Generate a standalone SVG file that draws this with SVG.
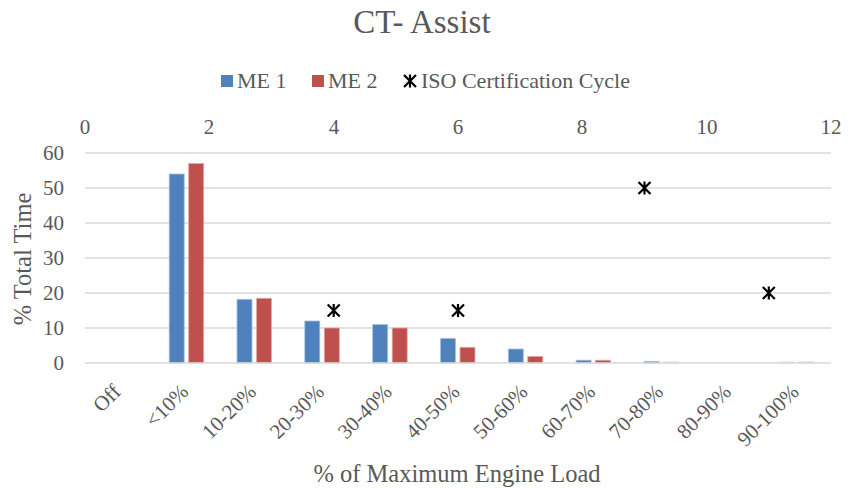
<svg xmlns="http://www.w3.org/2000/svg" width="856" height="488" viewBox="0 0 856 488">
<style>
text{font-family:'Liberation Serif','Times New Roman',serif;fill:#595959}
.title{font-size:33px}
.tick{font-size:21px}
.leg{font-size:22px}
.axt{font-size:24.5px}
.grid{stroke:#D9D9D9;stroke-width:1.5;fill:none}
.b1{fill:#4F81BD;stroke:#A7C0DE;stroke-width:0.8}
.b2{fill:#C0504D;stroke:#E0A8A6;stroke-width:0.8}
.mk{stroke:#000;stroke-width:2.2;fill:none}
</style>
<defs>
<path id="star" d="M-6,-6 L6,6 M-6,6 L6,-6 M0,-6.5 L0,6.5"/>
</defs>
<rect width="856" height="488" fill="#fff"/>
<text class="title" x="422" y="33" text-anchor="middle">CT- Assist</text>
<g id="legend">
<rect x="221" y="75" width="12" height="12" fill="#4F81BD"/>
<text class="leg" x="237" y="87.5">ME 1</text>
<rect x="312" y="75" width="12" height="12" fill="#C0504D"/>
<text class="leg" x="328" y="87.5">ME 2</text>
<use href="#star" class="mk" transform="translate(410,81)"/>
<text class="leg" x="421" y="87.5">ISO Certification Cycle</text>
</g>
<g id="gridlines">
<line class="grid" x1="85" y1="153" x2="831" y2="153"/>
<line class="grid" x1="85" y1="188" x2="831" y2="188"/>
<line class="grid" x1="85" y1="223" x2="831" y2="223"/>
<line class="grid" x1="85" y1="258" x2="831" y2="258"/>
<line class="grid" x1="85" y1="293" x2="831" y2="293"/>
<line class="grid" x1="85" y1="328" x2="831" y2="328"/>
</g>
<g id="y-axis" text-anchor="end">
<text class="tick" x="64" y="160">60</text>
<text class="tick" x="64" y="195">50</text>
<text class="tick" x="64" y="230">40</text>
<text class="tick" x="64" y="265">30</text>
<text class="tick" x="64" y="300">20</text>
<text class="tick" x="64" y="335">10</text>
<text class="tick" x="64" y="370">0</text>
</g>
<g id="top-axis" text-anchor="middle">
<text class="tick" x="85" y="134">0</text>
<text class="tick" x="209" y="134">2</text>
<text class="tick" x="334" y="134">4</text>
<text class="tick" x="458" y="134">6</text>
<text class="tick" x="582" y="134">8</text>
<text class="tick" x="707" y="134">10</text>
<text class="tick" x="831" y="134">12</text>
</g>
<g id="series-me1">
<rect class="b1" x="169.2" y="174" width="15" height="189"/>
<rect class="b1" x="237" y="299.3" width="15" height="63.7"/>
<rect class="b1" x="304.8" y="321" width="15" height="42"/>
<rect class="b1" x="372.7" y="324.5" width="15" height="38.5"/>
<rect class="b1" x="440.5" y="338.5" width="15" height="24.5"/>
<rect class="b1" x="508.3" y="349" width="15" height="14"/>
<rect class="b1" x="576.1" y="360.2" width="15" height="2.8"/>
<rect class="b1" x="644" y="361.3" width="15" height="1.7"/>
<rect class="b1" x="779.6" y="361.8" width="15" height="1.2" opacity="0.25"/>
</g>
<g id="series-me2">
<rect class="b2" x="188.7" y="163.5" width="15" height="199.5"/>
<rect class="b2" x="256.5" y="298.3" width="15" height="64.7"/>
<rect class="b2" x="324.3" y="328" width="15" height="35"/>
<rect class="b2" x="392.2" y="328" width="15" height="35"/>
<rect class="b2" x="460" y="347.3" width="15" height="15.7"/>
<rect class="b2" x="527.8" y="356.4" width="15" height="6.6"/>
<rect class="b2" x="595.6" y="360.2" width="15" height="2.8"/>
<rect class="b2" x="663.5" y="361.8" width="15" height="1.2" opacity="0.3"/>
<rect class="b2" x="799.1" y="361.8" width="15" height="1.2" opacity="0.35"/>
</g>
<line class="grid" x1="85" y1="363" x2="831" y2="363"/>
<g id="series-iso">
<use href="#star" class="mk" transform="translate(333.7,310.5)"/>
<use href="#star" class="mk" transform="translate(458,310.5)"/>
<use href="#star" class="mk" transform="translate(644.5,188)"/>
<use href="#star" class="mk" transform="translate(768.8,293)"/>
</g>
<g id="categories" text-anchor="end">
<text class="tick" transform="translate(121.9,393) rotate(-45)">Off</text>
<text class="tick" transform="translate(189.7,393) rotate(-45)">&lt;10%</text>
<text class="tick" transform="translate(257.5,393) rotate(-45)">10-20%</text>
<text class="tick" transform="translate(325.3,393) rotate(-45)">20-30%</text>
<text class="tick" transform="translate(393.2,393) rotate(-45)">30-40%</text>
<text class="tick" transform="translate(461,393) rotate(-45)">40-50%</text>
<text class="tick" transform="translate(528.8,393) rotate(-45)">50-60%</text>
<text class="tick" transform="translate(596.6,393) rotate(-45)">60-70%</text>
<text class="tick" transform="translate(664.5,393) rotate(-45)">70-80%</text>
<text class="tick" transform="translate(732.3,393) rotate(-45)">80-90%</text>
<text class="tick" transform="translate(800.1,393) rotate(-45)">90-100%</text>
</g>
<text class="axt" transform="translate(31,259) rotate(-90)" text-anchor="middle">% Total Time</text>
<text class="axt" x="457" y="481.7" text-anchor="middle">% of Maximum Engine Load</text>
</svg>
